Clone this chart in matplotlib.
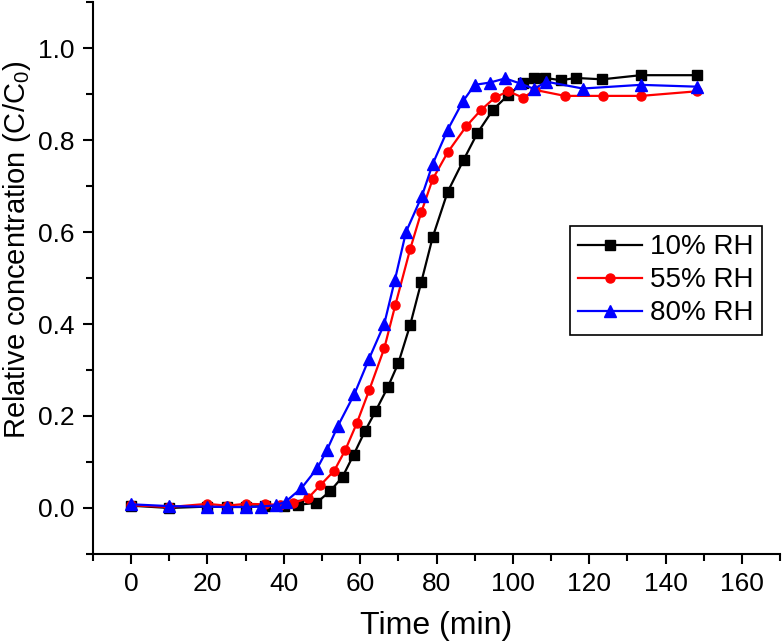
import matplotlib
matplotlib.use('Agg')
import matplotlib.pyplot as plt
from matplotlib.ticker import MultipleLocator

plt.rcParams['font.family'] = ['Liberation Sans', 'DejaVu Sans']

# 10% RH
t_10 = [0, 10, 20, 25, 30, 35, 40, 43.6, 48.5, 52.2, 55.4, 58.3, 61.3, 64, 67.2, 70,
        73.1, 76, 79, 82.9, 87.1, 90.7, 94.8, 98.8, 102.7, 105.5, 108.5, 112.6, 116.5,
        123.4, 133.5, 148.2]
c_10 = [0.005, 0.0, 0.003, 0.002, 0.003, 0.004, 0.005, 0.007, 0.011, 0.037, 0.068, 0.116,
        0.168, 0.21, 0.262, 0.315, 0.398, 0.491, 0.589, 0.687, 0.757, 0.815, 0.866, 0.898,
        0.925, 0.935, 0.935, 0.93, 0.935, 0.932, 0.941, 0.941]

# 55% RH
t_55 = [0, 10, 20, 25, 30, 35, 39, 42.3, 46.4, 49.5, 53.2, 56.1, 59.1, 62.4, 66.3, 69.2,
        73.1, 76, 79, 82.9, 87.8, 91.6, 95.4, 98.8, 102.7, 105.8, 113.6, 123.5, 133.6, 148.2]
c_55 = [0.006, 0.002, 0.009, 0.005, 0.009, 0.008, 0.007, 0.01, 0.022, 0.049, 0.081, 0.126,
        0.184, 0.257, 0.347, 0.441, 0.563, 0.643, 0.715, 0.773, 0.830, 0.865, 0.893, 0.906,
        0.892, 0.909, 0.896, 0.896, 0.896, 0.906]

# 80% RH
t_80 = [0, 10, 20, 25, 30, 34, 38, 40.5, 44.6, 48.8, 51.3, 54.2, 58.5, 62.3, 66.3, 69.1,
        72, 76.2, 79, 82.9, 86.9, 90, 94, 98, 101.9, 105.6, 108.7, 118.3, 133.5, 148.3]
c_80 = [0.008, 0.004, 0.003, 0.002, 0.002, 0.003, 0.006, 0.014, 0.043, 0.087, 0.126, 0.179,
        0.248, 0.324, 0.40, 0.496, 0.60, 0.679, 0.748, 0.822, 0.884, 0.92, 0.925, 0.934,
        0.923, 0.911, 0.927, 0.912, 0.92, 0.916]

labels = ['10% RH', '55% RH', '80% RH']

fig = plt.figure(figsize=(7.84, 6.44), dpi=100)
ax = fig.add_axes([0.1186, 0.1398, 0.8764, 0.857])

ax.plot(t_10, c_10, '-s', color='black', lw=1.6, ms=6.5, label=labels[0])
ax.plot(t_55, c_55, '-o', color='red', lw=1.6, ms=6.5, label=labels[1])
ax.plot(t_80, c_80, '-^', color='blue', lw=1.6, ms=8.5, label=labels[2])

ax.set_xlim(-10, 170)
ax.set_ylim(-0.1, 1.1)
ax.xaxis.set_major_locator(MultipleLocator(20))
ax.xaxis.set_minor_locator(MultipleLocator(10))
ax.yaxis.set_major_locator(MultipleLocator(0.2))
ax.yaxis.set_minor_locator(MultipleLocator(0.1))
ax.yaxis.set_major_formatter(plt.FuncFormatter(lambda v, p: '%.1f' % v))

for s in ['top', 'right']:
    ax.spines[s].set_visible(False)
for s in ['left', 'bottom']:
    ax.spines[s].set_linewidth(1.5)
ax.tick_params(which='major', direction='out', length=7, width=1.5, labelsize=19, pad=6)
ax.tick_params(which='minor', direction='out', length=5, width=1.5)

ax.set_xlabel('Time (min)', fontsize=23, labelpad=11)
ax.set_ylabel(r'Relative concentration (C/C$_\mathregular{0}$)', fontsize=21)
ax.yaxis.set_label_coords(-0.088, 0.551)

leg = ax.legend(loc='upper right', bbox_to_anchor=(0.974, 0.594), fontsize=20,
                fancybox=False, edgecolor='black', framealpha=1, borderaxespad=0,
                handlelength=2.3, handletextpad=0.3, borderpad=0.3, labelspacing=0.25)
leg.get_frame().set_linewidth(1.2)

plt.savefig('out.png', dpi=100)
